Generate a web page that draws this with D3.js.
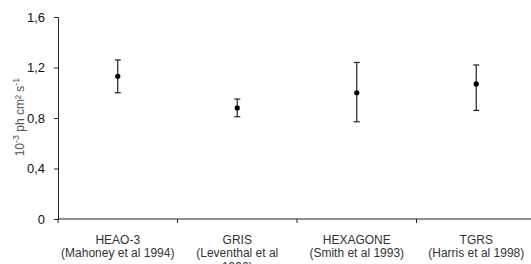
<!DOCTYPE html>
<html>
<head>
<meta charset="utf-8">
<script src="https://cdn.jsdelivr.net/npm/d3@7"></script>
<style>
  body { margin: 0; background: #fff; }
  svg { display: block; font-family: "Liberation Sans", Arial, sans-serif; }
</style>
</head>
<body>
<div id="viz"></div>
<script>
const instruments = ["HEAO-3", "GRIS", "HEXAGONE", "TGRS"]
const references = ["(Mahoney et al 1994)", "(Leventhal et al 1996)", "(Smith et al 1993)", "(Harris et al 1998)"]
const fluxValues = [1.13, 0.88, 1.0, 1.07]
const errLow = [1.0, 0.81, 0.77, 0.86]
const errHigh = [1.26, 0.95, 1.24, 1.22]
const yTicks = [0, 0.4, 0.8, 1.2, 1.6]

const width = 531, height = 264
const svg = d3.select("#viz").append("svg").attr("width", width).attr("height", height)

const x = d3.scaleBand().domain(instruments).range([58, 536])
const y = d3.scaleLinear().domain([0, 1.6]).range([219, 17])

// y axis
const yAxis = svg.append("g").attr("transform", "translate(58,0)")
    .call(d3.axisLeft(y).tickValues(yTicks).tickSize(4).tickPadding(9)
        .tickFormat(d => d3.format(".1f")(d).replace(".", ",").replace(/^0,0$/, "0")))
yAxis.select(".domain").attr("stroke", "#222")
yAxis.selectAll(".tick line").attr("stroke", "#222")
yAxis.selectAll("text").attr("font-size", 13).attr("fill", "#111")

// x axis with ticks at band boundaries
const xAxisG = svg.append("g")
xAxisG.append("line").attr("x1", 58).attr("x2", width).attr("y1", y(0)).attr("y2", y(0)).attr("stroke", "#222")
xAxisG.selectAll(".xt")
    .data(instruments)
    .join("line")
    .attr("x1", d => x(d)).attr("x2", d => x(d))
    .attr("y1", y(0)).attr("y2", y(0) + 4)
    .attr("stroke", "#222")

const labels = svg.append("g").attr("font-size", 12).attr("fill", "#333").attr("text-anchor", "middle")
instruments.forEach((name, i) => {
    const cx = x(name) + x.bandwidth() / 2
    labels.append("text").attr("x", cx).attr("y", 244).text(name)
    // GRIS reference wraps onto a third line (mostly cut off by the frame)
    if (i === 1) {
        labels.append("text").attr("x", cx).attr("y", 257).text("(Leventhal et al")
        labels.append("text").attr("x", cx).attr("y", 271).text("1996)")
    } else {
        labels.append("text").attr("x", cx).attr("y", 257).text(references[i])
    }
})

// y label
const yl = svg.append("text")
    .attr("transform", `translate(24,${117}) rotate(-90)`)
    .attr("text-anchor", "middle")
    .attr("font-size", 12)
    .attr("fill", "#555")
yl.append("tspan").text("10")
yl.append("tspan").attr("dy", -5).attr("font-size", 9).text("-3")
yl.append("tspan").attr("dy", 5).text(" ph cm² s")
yl.append("tspan").attr("dy", -5).attr("font-size", 9).text("-1")

// error bars
const data = instruments.map((d, i) => ({ name: d, v: fluxValues[i], lo: errLow[i], hi: errHigh[i] }))
const cx = d => x(d.name) + x.bandwidth() / 2
const eb = svg.append("g").attr("stroke", "#222").attr("stroke-width", 1.2)
eb.selectAll(".v").data(data).join("line")
    .attr("x1", cx).attr("x2", cx).attr("y1", d => y(d.lo)).attr("y2", d => y(d.hi))
eb.selectAll(".ct").data(data).join("line")
    .attr("x1", d => cx(d) - 3).attr("x2", d => cx(d) + 3).attr("y1", d => y(d.hi)).attr("y2", d => y(d.hi))
eb.selectAll(".cb").data(data).join("line")
    .attr("x1", d => cx(d) - 3).attr("x2", d => cx(d) + 3).attr("y1", d => y(d.lo)).attr("y2", d => y(d.lo))

svg.append("g").selectAll("circle").data(data).join("circle")
    .attr("cx", cx).attr("cy", d => y(d.v)).attr("r", 2.6).attr("fill", "#000")
</script>
</body>
</html>
